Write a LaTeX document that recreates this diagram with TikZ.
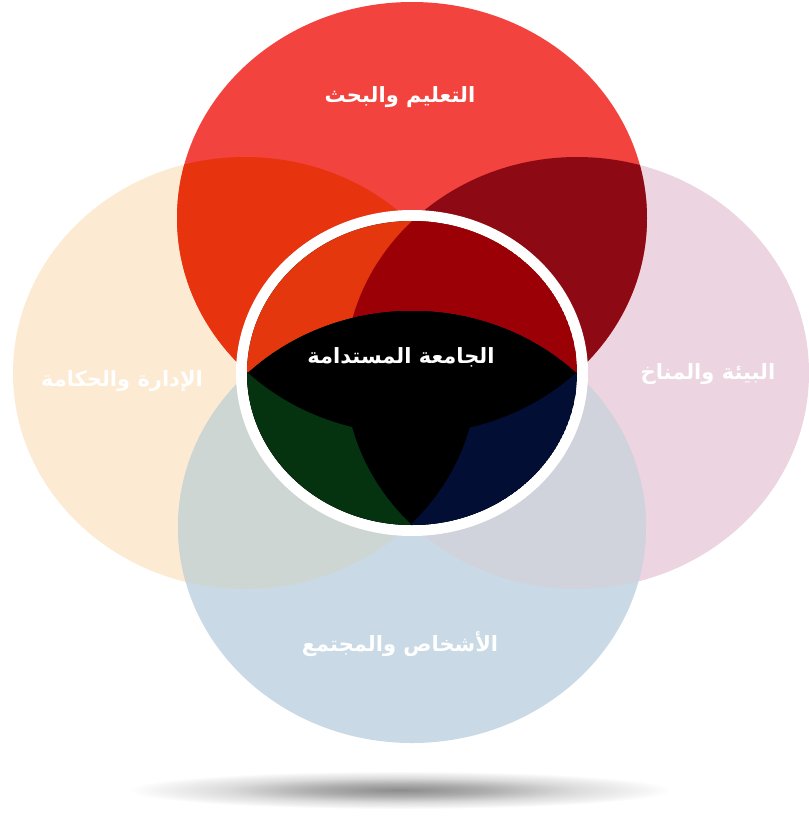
\documentclass[tikz,border=0pt]{standalone}
\usepackage{fontspec}
\TeXXeTstate=1
\newfontfamily\arabicfont[Script=Arabic]{DejaVu Sans}
\definecolor{cRed}{HTML}{F2433E}
\definecolor{cBei}{HTML}{FCEAD2}
\definecolor{cPin}{HTML}{ECD4E0}
\definecolor{cBlu}{HTML}{C9DAE6}
\definecolor{cBeiBlu}{HTML}{CED6D3}
\definecolor{cPinBlu}{HTML}{D0D2DC}
\definecolor{cRedBei}{HTML}{E8330F}
\definecolor{cRedPin}{HTML}{8D0A14}
\definecolor{cInOr}{HTML}{E5370E}
\definecolor{cInDk}{HTML}{9A0006}
\definecolor{cInGr}{HTML}{05320F}
\definecolor{cInNv}{HTML}{020E33}
\pgfdeclareradialshading{floorshadow}{\pgfpoint{0bp}{0bp}}{%
  color(0bp)=(black!45);color(8bp)=(black!32);color(16bp)=(black!14);
  color(22bp)=(black!5);color(25bp)=(white);color(50bp)=(white)}
\newcommand\pRed{(412,218) ellipse [x radius=235pt, y radius=216pt]}
\newcommand\pBei{(245,373) ellipse [x radius=232pt, y radius=216pt]}
\newcommand\pPin{(577,373) ellipse [x radius=232pt, y radius=216pt]}
\newcommand\pBlu{(412,527) ellipse [x radius=234pt, y radius=216pt]}
\newcommand\pIn{(412,373) ellipse [x radius=165pt, y radius=152pt]}
\begin{document}
\begin{tikzpicture}[x=1pt,y=-1pt,
  lbl/.style={text=white,inner sep=0pt,font=\arabicfont\bfseries\fontsize{21}{24}\selectfont}]
\fill[white] (0,0) rectangle (809,820);
% shadow
\shade[shading=floorshadow] (400,790) ellipse [x radius=272pt, y radius=19pt];
% base ellipses
\fill[cBei] \pBei;
\fill[cPin] \pPin;
\fill[cBlu] \pBlu;
\begin{scope}
  \clip \pBei; \fill[cBeiBlu] \pBlu;
\end{scope}
\begin{scope}
  \clip \pPin; \fill[cPinBlu] \pBlu;
\end{scope}
\fill[cRed] \pRed;
\begin{scope}
  \clip \pRed; \fill[cRedBei] \pBei; \fill[cRedPin] \pPin;
\end{scope}
% white ring
\fill[white] (412,373) ellipse [x radius=176pt, y radius=163pt];
% inner circle
\begin{scope}
  \clip \pIn;
  \fill[black] \pIn;
  \begin{scope}
    \clip \pRed; \fill[cInOr] \pIn; \fill[cInDk] \pPin;
  \end{scope}
  \begin{scope}
    \clip \pBlu;
    \fill[black] \pIn;
    \fill[cInGr] \pBei;
    \fill[cInNv] \pPin;
    \begin{scope}
      \clip \pBei; \fill[black] \pPin;
    \end{scope}
    \fill[black] \pRed;
  \end{scope}
\end{scope}
% labels
\node[lbl] (top) at (400,97) {\beginR التعليم والبحث\endR};
\node[lbl] (mid) at (401,357) {\beginR الجامعة المستدامة\endR};
\node[lbl] (lft) at (122,381) {\beginR الإدارة والحكامة\endR};
\node[lbl] (rgt) at (708,374) {\beginR البيئة والمناخ\endR};
\node[lbl] (bot) at (400,644) {\beginR الأشخاص والمجتمع\endR};
\end{tikzpicture}
\end{document}
